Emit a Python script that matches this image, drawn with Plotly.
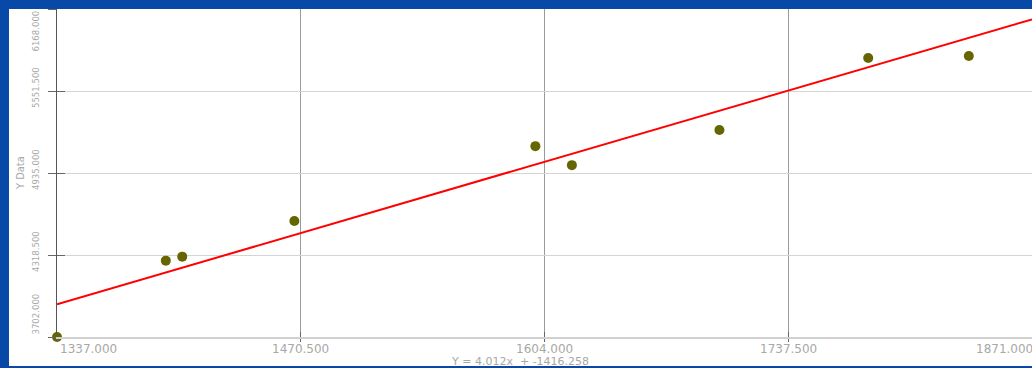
import plotly.graph_objects as go

# Sample data
x_data = [1337.0, 1396.6, 1405.6, 1467.0, 1599.0, 1619.0, 1699.8, 1781.3, 1836.4]
y_data = [3702.0, 4276.0, 4306.0, 4574.0, 5137.0, 4994.0, 5258.0, 5800.0, 5815.0]

# Regression line: Y = slope * x + intercept
slope = 4.012
intercept = -1416.258
equation_text = "Y = 4.012x \u00a0+ -1416.258"

x_ticks = [1337.0, 1470.5, 1604.0, 1737.5, 1871.0]
y_ticks = [3702.0, 4318.5, 4935.0, 5551.5, 6168.0]
x_tick_labels = ["1337.000", "1470.500", "1604.000", "1737.500", "1871.000"]
y_tick_labels = ["3702.000", "4318.500", "4935.000", "5551.500", "6168.000"]
y_title = "Y Data"

# Page geometry (px)
W, H = 1032, 368
L, R, T, B = 57, 0, 9, 31
plot_w = W - L - R
plot_h = H - T - B
frame_left, frame_top, frame_bottom = 9, 9, 366

BLUE = "#0849a8"
LABEL_GRAY = "#a8a8a8"
NARROW = "Liberation Sans Narrow, DejaVu Sans Condensed, sans-serif"

x_range = [x_ticks[0], x_ticks[-1]]
y_range = [y_ticks[0], y_ticks[-1]]

fig = go.Figure()

# fitted line across the full x range
line_x = list(x_range)
line_y = [slope * v + intercept for v in line_x]
fig.add_trace(go.Scatter(
    x=line_x, y=line_y, mode="lines",
    line=dict(color="#ff0000", width=2),
    hoverinfo="skip", showlegend=False,
))

fig.add_trace(go.Scatter(
    x=x_data, y=y_data, mode="markers",
    marker=dict(color="#666600", size=10, line=dict(width=0)),
    cliponaxis=False, showlegend=False,
))

# invisible trace on overlay axes so the inner tick marks are drawn
fig.add_trace(go.Scatter(
    x=[x_range[0]], y=[y_range[0]], xaxis="x2", yaxis="y2",
    mode="markers", marker=dict(opacity=0), hoverinfo="skip", showlegend=False,
))

annotations = []

# y tick labels, rotated
for i, (v, txt) in enumerate(zip(y_ticks, y_tick_labels)):
    if i == 0:
        anchor, shift = "bottom", 0
    elif i == len(y_ticks) - 1:
        anchor, shift = "top", 0
    else:
        anchor, shift = "middle", 3
    annotations.append(dict(
        x=0, xref="paper", y=v, yref="y", text=txt, showarrow=False,
        textangle=-90, xanchor="center", yanchor=anchor, xshift=-22, yshift=shift,
        font=dict(family=NARROW, size=9.5, color=LABEL_GRAY),
    ))

# x tick labels
for i, (v, txt) in enumerate(zip(x_ticks, x_tick_labels)):
    if i == 0:
        anchor, shift = "left", 1
    elif i == len(x_ticks) - 1:
        anchor, shift = "center", -28
    else:
        anchor, shift = "center", 0
    annotations.append(dict(
        x=v, xref="x", y=0, yref="paper", text=txt, showarrow=False,
        xanchor=anchor, yanchor="middle", xshift=shift, yshift=-12,
        font=dict(family="DejaVu Sans", size=12, color=LABEL_GRAY),
    ))

# axis title
annotations.append(dict(
    x=0, xref="paper", y=0.5, yref="paper", text=y_title, showarrow=False,
    textangle=-90, xanchor="center", yanchor="middle", xshift=-37,
    font=dict(family=NARROW, size=11, color=LABEL_GRAY),
))

# regression equation under the axis
annotations.append(dict(
    x=(520 - L) / plot_w, xref="paper", y=0, yref="paper", text=equation_text,
    showarrow=False, xanchor="center", yanchor="middle", yshift=-24,
    font=dict(family="DejaVu Sans", size=11, color=LABEL_GRAY),
))

# white panel inside the blue frame
shapes = [dict(
    type="rect", xref="paper", yref="paper", layer="below",
    x0=(frame_left - L) / plot_w, x1=(W + 5 - L) / plot_w,
    y0=(plot_h + T - frame_bottom) / plot_h, y1=(plot_h + T - frame_top) / plot_h,
    fillcolor="white", line=dict(width=0),
)]

fig.update_layout(
    width=W, height=H,
    margin=dict(l=L, r=R, t=T, b=B, pad=0),
    paper_bgcolor=BLUE, plot_bgcolor="white",
    showlegend=False,
    annotations=annotations, shapes=shapes,
    xaxis=dict(
        range=x_range, tickvals=x_ticks, showticklabels=False,
        showgrid=True, gridcolor="#9a9a9a", gridwidth=1,
        zeroline=False, showline=True, linecolor="#d0d0d0", linewidth=2,
        ticks="outside", ticklen=3, tickcolor="#666666", tickwidth=1,
    ),
    yaxis=dict(
        range=y_range, tickvals=y_ticks, showticklabels=False,
        showgrid=True, gridcolor="#d4d4d4", gridwidth=1,
        zeroline=False, showline=True, linecolor="#555555", linewidth=1,
        ticks="outside", ticklen=8, tickcolor="#666666", tickwidth=1,
    ),
    xaxis2=dict(
        overlaying="x", range=x_range, tickvals=x_ticks, showticklabels=False,
        showgrid=False, zeroline=False, showline=False,
        ticks="inside", ticklen=5, tickcolor="#666666", tickwidth=1,
    ),
    yaxis2=dict(
        overlaying="y", range=y_range, tickvals=y_ticks, showticklabels=False,
        showgrid=False, zeroline=False, showline=False,
        ticks="inside", ticklen=8, tickcolor="#666666", tickwidth=1,
    ),
)

fig.write_html("out.html")
